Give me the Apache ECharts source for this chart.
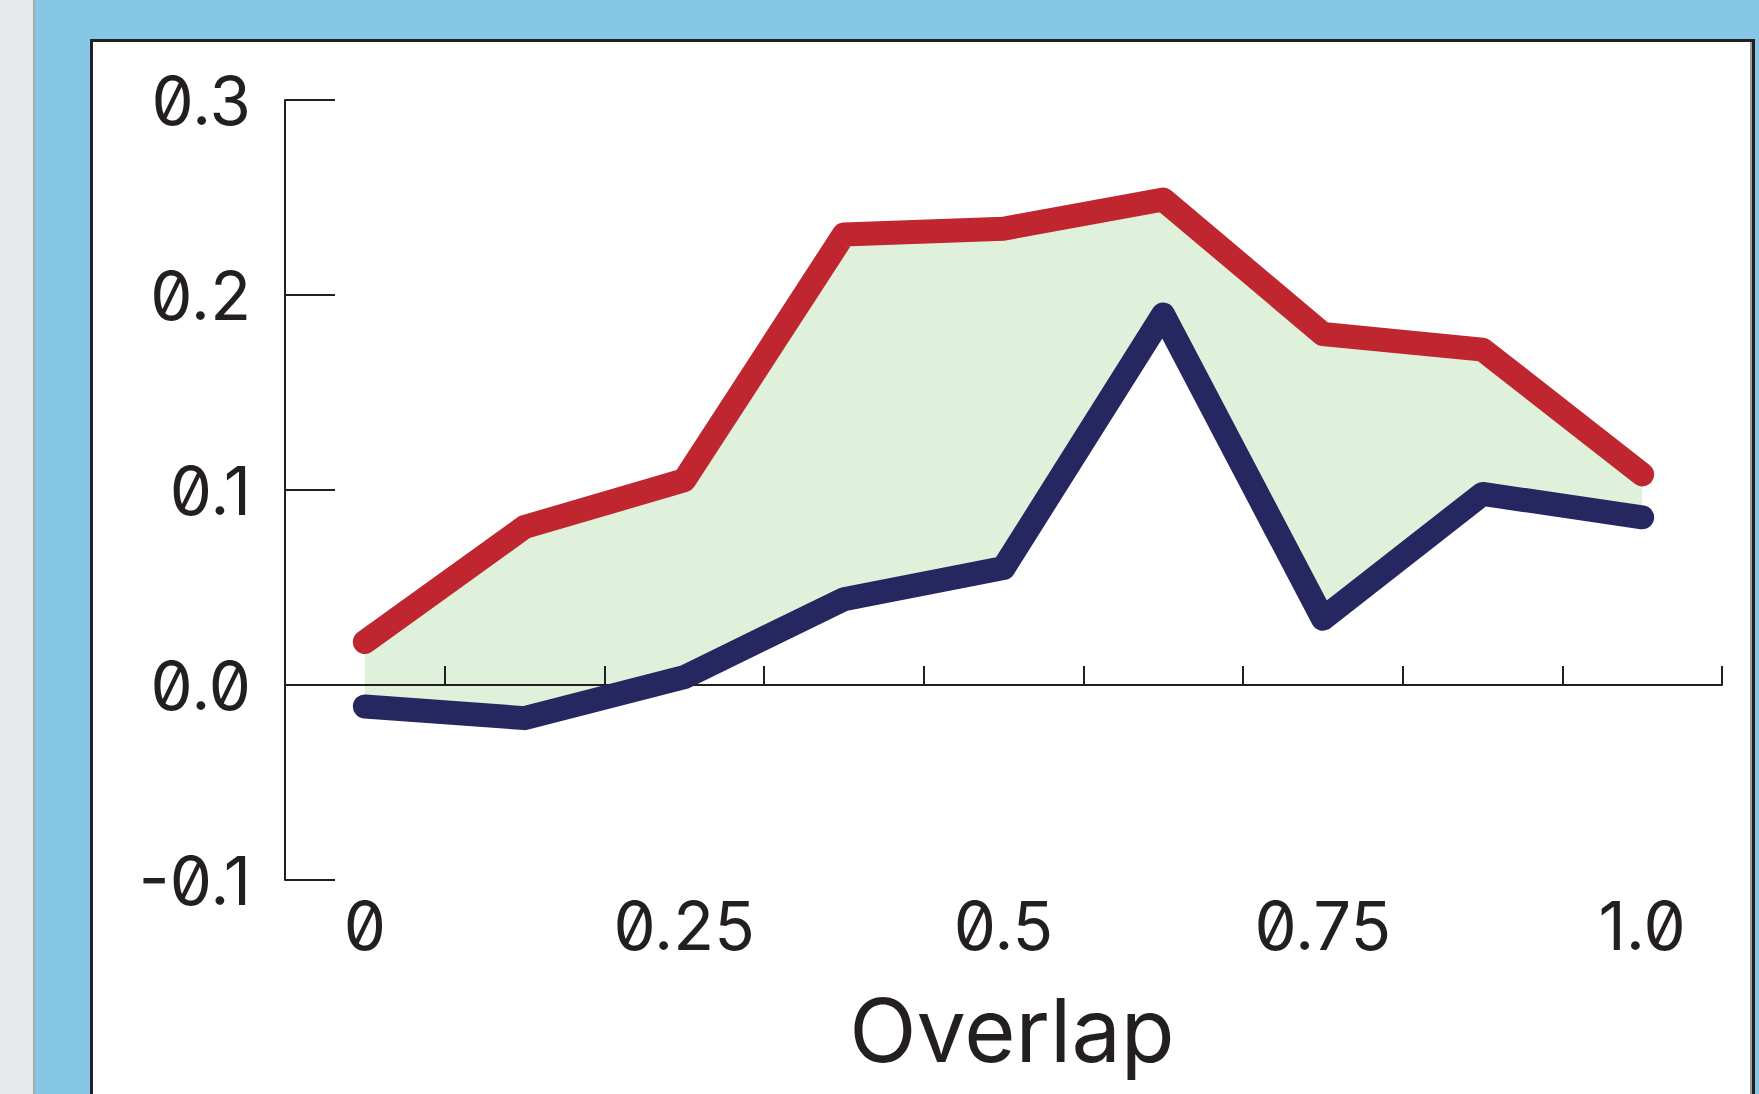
<!DOCTYPE html>
<html><head><meta charset="utf-8">
<script src="https://cdn.jsdelivr.net/npm/echarts@6/dist/echarts.min.js"></script>
<style>
html,body{margin:0;padding:0;width:1759px;height:1094px;overflow:hidden;background:#e7e8ea;}
#strip{position:absolute;left:33px;top:0;width:2px;height:1094px;background:#a9abad;}
#blue{position:absolute;left:35px;top:0;width:1724px;height:1094px;background:#86c7e5;}
#panel{position:absolute;left:90px;top:39px;width:1665px;height:1100px;background:#fff;border:3px solid #231f20;box-sizing:border-box;box-shadow:inset -2px 0 0 #9d9d9d;}
#chart{position:absolute;left:0;top:0;width:1759px;height:1094px;}
#chart text{font-feature-settings:"zero" 1;}
</style></head>
<body>
<div id="strip"></div><div id="blue"></div><div id="panel"></div>
<div id="chart"></div>
<script>
const categories = ['0','0.125','0.25','0.375','0.5','0.625','0.75','0.875','1.0'];
const upperSeries = [0.022, 0.081, 0.105, 0.231, 0.234, 0.249, 0.180, 0.172, 0.108];
const lowerSeries = [-0.011, -0.017, 0.004, 0.044, 0.060, 0.190, 0.034, 0.098, 0.086];
const yTickLabels = ['-0.1', '0.0', '0.1', '0.2', '0.3'];
const xAxisTitle = 'Overlap';

const bandDiff = upperSeries.map((u, i) => u - lowerSeries[i]);
const FONT = 'Inter';
const INK = '#231f20';

const chart = echarts.init(document.getElementById('chart'), null, {renderer: 'svg'});
chart.setOption({
  backgroundColor: 'transparent',
  animation: false,
  grid: {left: 285, right: 37, top: 100, bottom: 214, containLabel: false, outerBoundsMode: 'none'},
  xAxis: [
    {
      type: 'category', data: categories, boundaryGap: true, position: 'bottom',
      axisLine: {show: false, onZero: false}, axisTick: {show: false}, splitLine: {show: false},
      axisLabel: {interval: 1, margin: 12, fontFamily: FONT, fontSize: 67, color: INK},
      name: xAxisTitle, nameLocation: 'middle', nameGap: 106,
      nameTextStyle: {fontFamily: FONT, fontSize: 88, color: INK, padding: [0, 0, 0, 17]}
    },
    {
      type: 'category', data: categories, boundaryGap: true, position: 'bottom', z: 1,
      axisLine: {show: true, onZero: true, lineStyle: {color: INK, width: 2}},
      axisTick: {show: true, inside: true, length: 19, interval: 0, lineStyle: {color: INK, width: 2}},
      axisLabel: {show: false}, splitLine: {show: false}
    }
  ],
  yAxis: {
    type: 'value', min: -0.1, max: 0.3, interval: 0.1,
    axisLine: {show: true, lineStyle: {color: INK, width: 2}},
    axisTick: {show: true, inside: true, length: 50, lineStyle: {color: INK, width: 2}},
    splitLine: {show: false},
    axisLabel: {
      margin: 34, fontFamily: FONT, fontSize: 67, color: INK,
      formatter: (v) => yTickLabels[Math.round((v + 0.1) / 0.1)]
    }
  },
  series: [
    {type: 'line', data: lowerSeries, stack: 'band', stackStrategy: 'all', symbol: 'none',
     lineStyle: {opacity: 0}, silent: true, z: 0},
    {type: 'line', data: bandDiff, stack: 'band', stackStrategy: 'all', symbol: 'none',
     lineStyle: {opacity: 0}, areaStyle: {color: '#dff1da', opacity: 1}, silent: true, z: 0},
    {type: 'line', data: upperSeries, symbol: 'none', z: 3,
     lineStyle: {color: '#bf262f', width: 24, cap: 'round', join: 'round'}},
    {type: 'line', data: lowerSeries, symbol: 'none', z: 3,
     lineStyle: {color: '#262660', width: 24, cap: 'round', join: 'round'}}
  ]
});
</script>
</body></html>
